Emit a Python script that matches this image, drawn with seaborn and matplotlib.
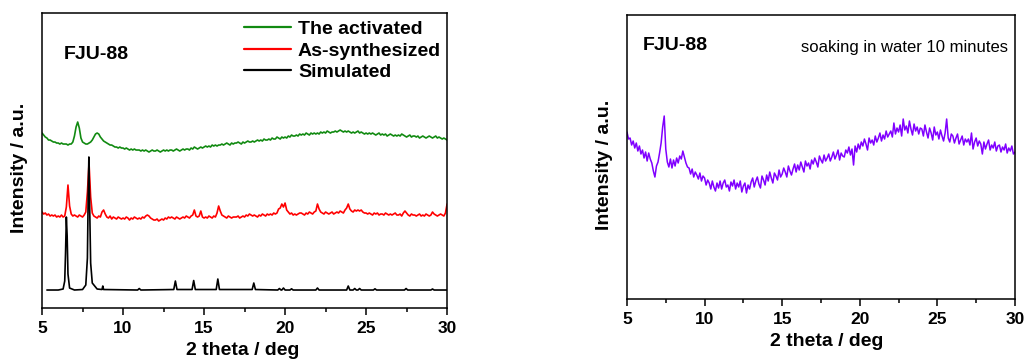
import numpy as np
import pandas as pd
import matplotlib
matplotlib.use("Agg")
import matplotlib.pyplot as plt
import seaborn as sns
from matplotlib.ticker import MultipleLocator

# ---------------- data ----------------
# regular 2-theta sampling grid (deg) for the measured patterns
two_theta = np.round(np.arange(50, 301) / 10.0, 1)

activated = [
    175,173,171,170,168,168,167,166,166,165,
    165,164,165,164,164,164,163,164,164,166,
    172,181,186,180,170,166,165,164,164,165,
    166,168,171,174,175,174,171,169,167,166,
    165,164,163,163,162,161,161,160,161,160,
    160,159,160,159,158,159,158,159,158,158,
    158,157,158,157,158,157,156,157,158,157,
    157,158,157,156,157,158,157,158,157,158,
    158,157,158,159,158,157,158,159,158,159,
    159,158,160,159,161,160,159,160,161,160,
    161,162,161,162,161,163,162,163,162,163,
    163,164,163,164,165,164,163,165,164,165,
    165,166,165,164,166,165,166,167,166,166,
    167,166,167,168,167,168,167,169,168,168,
    169,168,170,169,169,171,170,169,171,170,
    171,170,172,171,173,172,172,173,172,174,
    173,174,173,175,174,173,175,174,175,174,
    175,174,176,175,176,175,177,176,175,176,
    176,177,176,177,178,177,176,177,176,177,
    176,175,176,175,176,177,175,176,175,174,
    175,174,175,174,175,174,173,174,175,173,
    174,173,174,172,173,174,173,172,173,172,
    173,172,174,173,172,171,172,173,171,172,
    172,171,172,170,171,172,171,170,171,172,
    171,170,171,172,170,171,170,169,170,169,
    168]

as_synthesized = [
    96,94,95,93,94,92,93,92,93,91,
    92,91,93,91,92,101,123,102,94,92,
    93,92,91,93,92,91,93,96,116,145,
    111,95,92,91,90,92,91,96,98,94,
    91,90,92,89,91,90,89,91,90,89,
    90,89,91,90,88,90,89,91,90,89,
    90,89,91,90,92,93,92,90,89,88,
    88,89,87,88,89,88,90,89,91,90,
    91,90,89,91,90,89,90,91,90,92,
    91,90,92,93,98,92,91,92,97,91,
    90,91,90,92,91,90,92,91,95,102,
    97,93,92,91,90,92,91,90,91,91,
    91,92,90,91,92,91,93,92,94,93,
    92,93,92,91,93,92,94,93,92,94,
    93,94,93,95,94,95,99,100,104,101,
    105,98,96,94,95,93,94,93,94,95,
    95,94,93,95,94,96,95,94,96,97,
    104,99,96,95,94,96,95,94,95,96,
    94,95,96,95,97,96,95,98,100,104,
    99,97,96,98,97,98,97,98,96,95,
    95,94,95,94,93,95,94,95,93,94,
    94,93,95,94,93,94,93,94,95,93,
    93,94,92,95,97,95,93,92,94,93,
    93,92,93,94,92,93,92,94,93,92,
    93,96,94,93,92,93,94,93,92,95,
    104]

sim_theta = [5.3, 6.0, 6.3, 6.4, 6.45, 6.5, 6.55, 6.6, 6.7, 7.0,
             7.5, 7.7, 7.8, 7.85, 7.89, 7.93, 8.0, 8.1, 8.4, 8.7,
             8.75, 8.8, 10.9, 11.0, 11.1, 13.13, 13.23, 13.33, 14.26, 14.36,
             14.46, 15.75, 15.85, 15.95, 17.97, 18.07, 18.17, 19.55, 19.65, 19.75,
             19.8, 19.9, 20.0, 20.3, 20.4, 20.5, 21.9, 22.0, 22.1, 23.8,
             23.9, 24.0, 24.2, 24.3, 24.4, 24.5, 24.6, 24.7, 25.45, 25.55,
             25.65, 27.37, 27.47, 27.57, 29.0, 29.1, 29.2, 30.0]
simulated = [18, 18, 19, 27, 55, 91, 72, 34, 20, 18,
             18.5, 23, 50, 115, 151, 110, 45, 25, 19, 18.5,
             22, 18.5, 18, 19.5, 18, 18.5, 27, 18.5, 18.5, 27.5,
             18.5, 18.5, 29, 18.5, 18.5, 25, 18.5, 18, 19.5, 18,
             18, 20, 18, 18, 19.2, 18, 18, 20, 18, 18,
             22, 18, 18, 19.5, 18, 18, 19.5, 18, 18, 19.2,
             18, 18, 19.5, 18, 18, 19, 18, 18]

water_10min = [
    167,160,161,154,158,151,156,148,153,145,
    149,141,147,138,146,140,136,128,122,133,
    137,146,156,172,183,150,137,132,140,131,
    139,133,141,136,143,140,148,142,136,132,
    131,125,130,122,127,124,120,126,118,123,
    121,114,119,116,110,118,112,108,116,111,
    118,110,116,119,112,114,108,117,113,119,
    110,116,112,118,107,113,116,106,114,110,
    117,121,112,118,122,115,111,123,119,114,
    124,118,127,121,116,126,123,119,129,122,
    125,131,127,122,133,128,124,130,135,127,
    134,129,137,132,127,138,133,136,130,139,
    135,141,137,132,143,139,136,144,138,141,
    145,138,142,147,140,144,149,139,146,143,
    142,149,146,152,144,150,134,153,147,155,
    150,157,153,160,155,149,161,156,159,154,
    163,157,161,166,158,164,160,168,162,165,
    168,162,176,165,171,167,174,163,180,169,
    173,166,178,170,164,175,168,172,165,171,
    170,163,174,167,161,171,166,159,172,164,
    167,160,169,163,158,166,180,161,157,165,
    163,156,161,165,155,159,163,154,160,157,
    160,154,166,150,157,161,153,158,155,145,
    157,150,155,159,149,154,151,157,148,153,
    154,147,152,149,155,146,151,148,153,145,
    147]

legend_labels = ["The activated", "As-synthesized", "Simulated"]
x_ticks = [5, 10, 15, 20, 25, 30]

# ---------------- style ----------------
sns.set_style("ticks")
plt.rcParams["font.family"] = ["Liberation Sans", "DejaVu Sans"]
plt.rcParams["font.weight"] = "bold"
plt.rcParams["axes.linewidth"] = 1.1
for key in ("text.color", "axes.labelcolor", "xtick.color", "ytick.color",
            "axes.edgecolor"):
    plt.rcParams[key] = "black"

fig = plt.figure(figsize=(10.28, 3.6), dpi=100)
ax1 = fig.add_axes([0.0409, 0.1444, 0.394, 0.8194])
ax2 = fig.add_axes([0.6099, 0.1694, 0.3774, 0.7889])

df_meas = pd.DataFrame({"theta": two_theta, "act": activated, "syn": as_synthesized,
                        "water": water_10min})
df_sim = pd.DataFrame({"theta": sim_theta, "sim": simulated})

green = "#118a11"
red = "#ff0000"
purple = "#8000ff"

sns.lineplot(data=df_meas, x="theta", y="act", ax=ax1, color=green, lw=1.2,
             estimator=None, sort=False, label=legend_labels[0])
sns.lineplot(data=df_meas, x="theta", y="syn", ax=ax1, color=red, lw=1.2,
             estimator=None, sort=False, label=legend_labels[1])
sns.lineplot(data=df_sim, x="theta", y="sim", ax=ax1, color="black", lw=1.2,
             estimator=None, sort=False, label=legend_labels[2])
sns.lineplot(data=df_meas, x="theta", y="water", ax=ax2, color=purple, lw=1.1,
             estimator=None, sort=False)

for ax, top in ((ax1, 295), (ax2, 284)):
    ax.set_xlim(5, 30)
    ax.set_ylim(0, top)
    ax.set_xticks(x_ticks)
    ax.xaxis.set_minor_locator(MultipleLocator(2.5))
    ax.set_yticks([])
    ax.tick_params(axis="x", which="major", direction="out", length=5, width=1.1,
                   labelsize=12.5, pad=4, colors="black")
    ax.tick_params(axis="x", which="minor", direction="out", length=3, width=1.1,
                   colors="black")
    for lab in ax.get_xticklabels():
        lab.set_fontweight("bold")
    for s in ax.spines.values():
        s.set_visible(True)
        s.set_linewidth(1.1)
        s.set_color("black")
    ax.set_xlabel("2 theta / deg", fontsize=14, fontweight="bold", color="black")
    ax.set_ylabel("Intensity / a.u.", fontsize=14, fontweight="bold", color="black")

ax1.xaxis.set_label_coords(0.496, -0.115)
ax1.yaxis.set_label_coords(-0.035, 0.476)
ax2.xaxis.set_label_coords(0.515, -0.12)
ax2.yaxis.set_label_coords(-0.036, 0.472)

ax1.text(0.054, 0.858, "FJU-88", transform=ax1.transAxes, fontsize=14,
         fontweight="bold", ha="left", va="center", color="black")
ax2.text(0.040, 0.894, "FJU-88", transform=ax2.transAxes, fontsize=14,
         fontweight="bold", ha="left", va="center", color="black")
ax2.text(0.982, 0.885, "soaking in water 10 minutes", transform=ax2.transAxes,
         fontsize=12, fontweight="normal", ha="right", va="center", color="black")

leg = ax1.legend(loc="upper right", bbox_to_anchor=(0.985, 0.975), frameon=False,
                 borderpad=0, borderaxespad=0, handlelength=2.4, handletextpad=0.35,
                 labelspacing=0.2, prop={"size": 14, "weight": "bold"})
for line in leg.get_lines():
    line.set_linewidth(1.6)
for t in leg.get_texts():
    t.set_color("black")

fig.savefig("out.png", dpi=100)
